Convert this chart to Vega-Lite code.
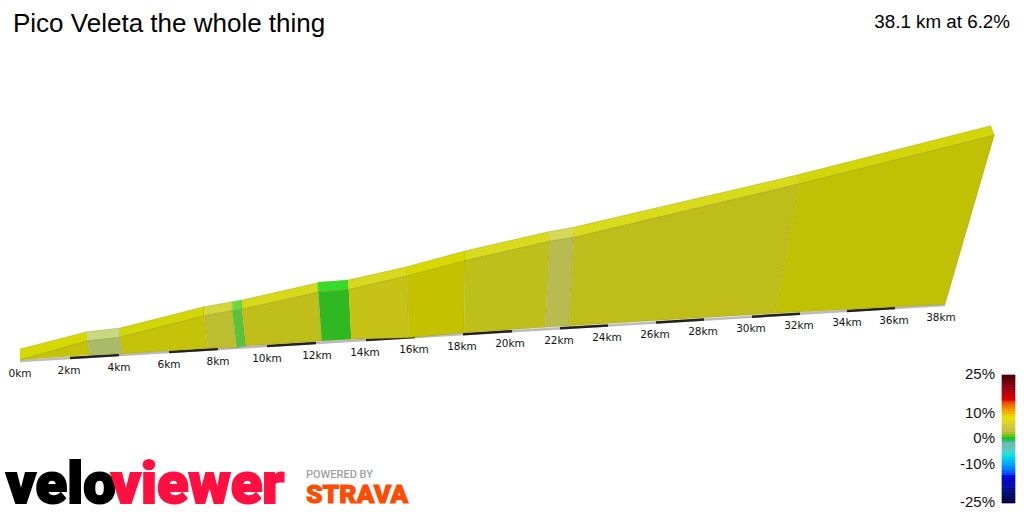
{
  "$schema": "https://vega.github.io/schema/vega-lite/v6.json",
  "autosize": {"type": "fit", "contains": "padding"},
  "width": 1024,
  "height": 512,
  "padding": 0,
  "background": "white",
  "config": {"view": {"stroke": null}},
  "datasets": {
    "faces": [
      {"patch":"s01 top","i":0,"x":0.8,"y":1630},{"patch":"s01 top","i":1,"x":3.49,"y":1803},{"patch":"s01 top","i":2,"x":3.49,"y":1710},{"patch":"s01 top","i":3,"x":0.8,"y":1520},
      {"patch":"s01 side","i":0,"x":0.8,"y":1520},{"patch":"s01 side","i":1,"x":3.49,"y":1710},{"patch":"s01 side","i":2,"x":3.6,"y":1570},
      {"patch":"s02 top","i":0,"x":3.49,"y":1803},{"patch":"s02 top","i":1,"x":4.8,"y":1840},{"patch":"s02 top","i":2,"x":4.8,"y":1747},{"patch":"s02 top","i":3,"x":3.49,"y":1710},
      {"patch":"s02 side","i":0,"x":3.49,"y":1710},{"patch":"s02 side","i":1,"x":4.8,"y":1747},{"patch":"s02 side","i":2,"x":4.92,"y":1583},{"patch":"s02 side","i":3,"x":3.6,"y":1570},
      {"patch":"s03 top","i":0,"x":4.8,"y":1840},{"patch":"s03 top","i":1,"x":8.16,"y":2053},{"patch":"s03 top","i":2,"x":8.16,"y":1960},{"patch":"s03 top","i":3,"x":4.8,"y":1747},
      {"patch":"s03 side","i":0,"x":4.8,"y":1747},{"patch":"s03 side","i":1,"x":8.16,"y":1960},{"patch":"s03 side","i":2,"x":8.32,"y":1637},{"patch":"s03 side","i":3,"x":4.92,"y":1583},
      {"patch":"s04 top","i":0,"x":8.16,"y":2053},{"patch":"s04 top","i":1,"x":9.29,"y":2103},{"patch":"s04 top","i":2,"x":9.29,"y":2013},{"patch":"s04 top","i":3,"x":8.16,"y":1960},
      {"patch":"s04 side","i":0,"x":8.16,"y":1960},{"patch":"s04 side","i":1,"x":9.29,"y":2013},{"patch":"s04 side","i":2,"x":9.47,"y":1645},{"patch":"s04 side","i":3,"x":8.32,"y":1637},
      {"patch":"s05 top","i":0,"x":9.29,"y":2103},{"patch":"s05 top","i":1,"x":9.68,"y":2120},{"patch":"s05 top","i":2,"x":9.68,"y":2027},{"patch":"s05 top","i":3,"x":9.29,"y":2013},
      {"patch":"s05 side","i":0,"x":9.29,"y":2013},{"patch":"s05 side","i":1,"x":9.68,"y":2027},{"patch":"s05 side","i":2,"x":9.84,"y":1660},{"patch":"s05 side","i":3,"x":9.47,"y":1645},
      {"patch":"s06 top","i":0,"x":9.68,"y":2120},{"patch":"s06 top","i":1,"x":12.72,"y":2293},{"patch":"s06 top","i":2,"x":12.72,"y":2197},{"patch":"s06 top","i":3,"x":9.68,"y":2027},
      {"patch":"s06 side","i":0,"x":9.68,"y":2027},{"patch":"s06 side","i":1,"x":12.72,"y":2197},{"patch":"s06 side","i":2,"x":12.87,"y":1710},{"patch":"s06 side","i":3,"x":9.84,"y":1660},
      {"patch":"s07 top","i":0,"x":12.71,"y":2297},{"patch":"s07 top","i":1,"x":13.92,"y":2320},{"patch":"s07 top","i":2,"x":13.95,"y":2223},{"patch":"s07 top","i":3,"x":12.73,"y":2200},
      {"patch":"s07 side","i":0,"x":12.73,"y":2200},{"patch":"s07 side","i":1,"x":13.95,"y":2223},{"patch":"s07 side","i":2,"x":14.05,"y":1727},{"patch":"s07 side","i":3,"x":12.87,"y":1710},
      {"patch":"s08 top","i":0,"x":13.92,"y":2320},{"patch":"s08 top","i":1,"x":16.27,"y":2453},{"patch":"s08 top","i":2,"x":16.29,"y":2360},{"patch":"s08 top","i":3,"x":13.95,"y":2223},
      {"patch":"s08 side","i":0,"x":13.95,"y":2223},{"patch":"s08 side","i":1,"x":16.29,"y":2360},{"patch":"s08 side","i":2,"x":16.35,"y":1743},{"patch":"s08 side","i":3,"x":14.05,"y":1727},
      {"patch":"s09 top","i":0,"x":16.27,"y":2453},{"patch":"s09 top","i":1,"x":18.6,"y":2610},{"patch":"s09 top","i":2,"x":18.6,"y":2513},{"patch":"s09 top","i":3,"x":16.29,"y":2360},
      {"patch":"s09 side","i":0,"x":16.29,"y":2360},{"patch":"s09 side","i":1,"x":18.6,"y":2513},{"patch":"s09 side","i":2,"x":18.56,"y":1793},{"patch":"s09 side","i":3,"x":16.35,"y":1743},
      {"patch":"s10 top","i":0,"x":18.6,"y":2610},{"patch":"s10 top","i":1,"x":21.93,"y":2803},{"patch":"s10 top","i":2,"x":22,"y":2707},{"patch":"s10 top","i":3,"x":18.6,"y":2513},
      {"patch":"s10 side","i":0,"x":18.6,"y":2513},{"patch":"s10 side","i":1,"x":22,"y":2707},{"patch":"s10 side","i":2,"x":21.8,"y":1847},{"patch":"s10 side","i":3,"x":18.56,"y":1793},
      {"patch":"s11 top","i":0,"x":21.93,"y":2803},{"patch":"s11 top","i":1,"x":22.93,"y":2847},{"patch":"s11 top","i":2,"x":22.97,"y":2747},{"patch":"s11 top","i":3,"x":22,"y":2707},
      {"patch":"s11 side","i":0,"x":22,"y":2707},{"patch":"s11 side","i":1,"x":22.97,"y":2747},{"patch":"s11 side","i":2,"x":22.75,"y":1863},{"patch":"s11 side","i":3,"x":21.8,"y":1847},
      {"patch":"s12 top","i":0,"x":22.93,"y":2847},{"patch":"s12 top","i":1,"x":31.87,"y":3370},{"patch":"s12 top","i":2,"x":31.97,"y":3280},{"patch":"s12 top","i":3,"x":22.97,"y":2747},
      {"patch":"s12 side","i":0,"x":22.97,"y":2747},{"patch":"s12 side","i":1,"x":31.97,"y":3280},{"patch":"s12 side","i":2,"x":31,"y":1987},{"patch":"s12 side","i":3,"x":22.75,"y":1863},
      {"patch":"s13 top","i":0,"x":31.87,"y":3370},{"patch":"s13 top","i":1,"x":39.63,"y":3863},{"patch":"s13 top","i":2,"x":39.77,"y":3767},{"patch":"s13 top","i":3,"x":31.97,"y":3280},
      {"patch":"s13 side","i":0,"x":31.97,"y":3280},{"patch":"s13 side","i":1,"x":39.77,"y":3767},{"patch":"s13 side","i":2,"x":37.8,"y":2077},{"patch":"s13 side","i":3,"x":31,"y":1987}
    ],
    "stripes": [
      {"km":2,"x":2.8,"y":1540,"x2":4.76,"y2":1570},
      {"km":6,"x":6.76,"y":1600,"x2":8.72,"y2":1630},
      {"km":10,"x":10.68,"y":1659,"x2":12.64,"y2":1689},
      {"km":14,"x":14.64,"y":1719,"x2":16.6,"y2":1749},
      {"km":18,"x":18.52,"y":1778,"x2":20.48,"y2":1808},
      {"km":22,"x":22.4,"y":1837,"x2":24.32,"y2":1866},
      {"km":26,"x":26.24,"y":1895,"x2":28.16,"y2":1924},
      {"km":30,"x":30.08,"y":1953,"x2":32,"y2":1982},
      {"km":34,"x":33.88,"y":2010,"x2":35.8,"y2":2039}
    ],
    "ticks": [
      {"label":"0km","x":0.8,"y":1380},{"label":"2km","x":2.76,"y":1410},{"label":"4km","x":4.76,"y":1440},
      {"label":"6km","x":6.76,"y":1470},{"label":"8km","x":8.72,"y":1500},{"label":"10km","x":10.68,"y":1530},
      {"label":"12km","x":12.68,"y":1560},{"label":"14km","x":14.6,"y":1590},{"label":"16km","x":16.56,"y":1620},
      {"label":"18km","x":18.48,"y":1650},{"label":"20km","x":20.4,"y":1680},{"label":"22km","x":22.36,"y":1710},
      {"label":"24km","x":24.28,"y":1740},{"label":"26km","x":26.2,"y":1770},{"label":"28km","x":28.12,"y":1800},
      {"label":"30km","x":30.04,"y":1830},{"label":"32km","x":31.96,"y":1860},{"label":"34km","x":33.88,"y":1890},
      {"label":"36km","x":35.76,"y":1910},{"label":"38km","x":37.64,"y":1940}
    ],
    "gradeBar": [
      {"grade":-25,"x":40.08,"x2":40.6,"y":90,"y2":116},{"grade":-24,"x":40.08,"x2":40.6,"y":116,"y2":141},{"grade":-23,"x":40.08,"x2":40.6,"y":141,"y2":167},{"grade":-22,"x":40.08,"x2":40.6,"y":167,"y2":193},{"grade":-21,"x":40.08,"x2":40.6,"y":193,"y2":218},
      {"grade":-20,"x":40.08,"x2":40.6,"y":218,"y2":244},{"grade":-19,"x":40.08,"x2":40.6,"y":244,"y2":269},{"grade":-18,"x":40.08,"x2":40.6,"y":269,"y2":295},{"grade":-17,"x":40.08,"x2":40.6,"y":295,"y2":321},{"grade":-16,"x":40.08,"x2":40.6,"y":321,"y2":346},
      {"grade":-15,"x":40.08,"x2":40.6,"y":346,"y2":372},{"grade":-14,"x":40.08,"x2":40.6,"y":372,"y2":397},{"grade":-13,"x":40.08,"x2":40.6,"y":397,"y2":423},{"grade":-12,"x":40.08,"x2":40.6,"y":423,"y2":449},{"grade":-11,"x":40.08,"x2":40.6,"y":449,"y2":474},
      {"grade":-10,"x":40.08,"x2":40.6,"y":474,"y2":500},{"grade":-9,"x":40.08,"x2":40.6,"y":500,"y2":525},{"grade":-8,"x":40.08,"x2":40.6,"y":525,"y2":551},{"grade":-7,"x":40.08,"x2":40.6,"y":551,"y2":577},{"grade":-6,"x":40.08,"x2":40.6,"y":577,"y2":602},
      {"grade":-5,"x":40.08,"x2":40.6,"y":602,"y2":628},{"grade":-4,"x":40.08,"x2":40.6,"y":628,"y2":653},{"grade":-3,"x":40.08,"x2":40.6,"y":653,"y2":679},{"grade":-2,"x":40.08,"x2":40.6,"y":679,"y2":705},{"grade":-1,"x":40.08,"x2":40.6,"y":705,"y2":730},
      {"grade":0,"x":40.08,"x2":40.6,"y":730,"y2":756},{"grade":1,"x":40.08,"x2":40.6,"y":756,"y2":781},{"grade":2,"x":40.08,"x2":40.6,"y":781,"y2":807},{"grade":3,"x":40.08,"x2":40.6,"y":807,"y2":833},{"grade":4,"x":40.08,"x2":40.6,"y":833,"y2":858},
      {"grade":5,"x":40.08,"x2":40.6,"y":858,"y2":884},{"grade":6,"x":40.08,"x2":40.6,"y":884,"y2":909},{"grade":7,"x":40.08,"x2":40.6,"y":909,"y2":935},{"grade":8,"x":40.08,"x2":40.6,"y":935,"y2":961},{"grade":9,"x":40.08,"x2":40.6,"y":961,"y2":986},
      {"grade":10,"x":40.08,"x2":40.6,"y":986,"y2":1012},{"grade":11,"x":40.08,"x2":40.6,"y":1012,"y2":1037},{"grade":12,"x":40.08,"x2":40.6,"y":1037,"y2":1063},{"grade":13,"x":40.08,"x2":40.6,"y":1063,"y2":1089},{"grade":14,"x":40.08,"x2":40.6,"y":1089,"y2":1114},
      {"grade":15,"x":40.08,"x2":40.6,"y":1114,"y2":1140},{"grade":16,"x":40.08,"x2":40.6,"y":1140,"y2":1165},{"grade":17,"x":40.08,"x2":40.6,"y":1165,"y2":1191},{"grade":18,"x":40.08,"x2":40.6,"y":1191,"y2":1217},{"grade":19,"x":40.08,"x2":40.6,"y":1217,"y2":1242},
      {"grade":20,"x":40.08,"x2":40.6,"y":1242,"y2":1268},{"grade":21,"x":40.08,"x2":40.6,"y":1268,"y2":1293},{"grade":22,"x":40.08,"x2":40.6,"y":1293,"y2":1319},{"grade":23,"x":40.08,"x2":40.6,"y":1319,"y2":1345},{"grade":24,"x":40.08,"x2":40.6,"y":1345,"y2":1370}
    ]
  },
  "encoding": {
    "x": {"field": "x", "type": "quantitative", "axis": null, "scale": {"domain": [0, 40.96], "nice": false, "zero": false}},
    "y": {"field": "y", "type": "quantitative", "axis": null, "scale": {"domain": [0, 5120], "nice": false, "zero": false}}
  },
  "layer": [
    {
      "data": {"values": [{"x": 0.8, "y": 1510, "x2": 37.8, "y2": 2070}]},
      "mark": {"type": "rule", "stroke": "#bbbbbb", "strokeWidth": 2.5},
      "encoding": {"x2": {"field": "x2"}, "y2": {"field": "y2"}}
    },
    {
      "data": {"name": "stripes"},
      "mark": {"type": "rule", "stroke": "#222222", "strokeWidth": 2.5},
      "encoding": {"x2": {"field": "x2"}, "y2": {"field": "y2"}}
    },
    {
      "data": {"name": "faces"},
      "mark": {"type": "line", "stroke": "#808000", "strokeOpacity": 0.35, "strokeWidth": 0.8},
      "encoding": {
        "order": {"field": "i"},
        "fill": {
          "field": "patch", "type": "nominal", "legend": null,
          "scale": {
            "domain": ["s01 top","s01 side","s02 top","s02 side","s03 top","s03 side","s04 top","s04 side","s05 top","s05 side","s06 top","s06 side","s07 top","s07 side","s08 top","s08 side","s09 top","s09 side","s10 top","s10 side","s11 top","s11 side","s12 top","s12 side","s13 top","s13 side"],
            "range": ["#d6d804","#c4c30a","#c8d87f","#a9bb6a","#d2d606","#c4c30a","#d3d63c","#bdbd30","#6bd840","#5cc13c","#d6d81a","#c0be1a","#36dc2c","#30b822","#d8d81c","#c6c216","#d6d800","#c4c100","#d9da1c","#bfbf1c","#d5d858","#b7bb50","#d8da1a","#bebd1a","#d2d508","#c0c005"]
          }
        }
      }
    },
    {
      "data": {"name": "ticks"},
      "mark": {"type": "text", "font": "DejaVu Sans", "fontSize": 10.5, "fill": "#111111", "align": "center", "baseline": "middle"},
      "encoding": {"text": {"field": "label"}}
    },
    {
      "data": {"name": "gradeBar"},
      "mark": {"type": "rect", "strokeWidth": 0.7},
      "encoding": {
        "x2": {"field": "x2"},
        "y2": {"field": "y2"},
        "color": {
          "field": "grade", "type": "quantitative", "legend": null,
          "scale": {
            "domain": [-25, -15, -7, -2, 0, 3, 8, 11.5, 15, 25],
            "range": ["#000040", "#0000e0", "#00e0e0", "#70b8a8", "#20c020", "#c8c040", "#e8e000", "#f09000", "#e00000", "#400000"]
          }
        },
        "stroke": {
          "field": "grade", "type": "quantitative", "legend": null,
          "scale": {
            "domain": [-25, -15, -7, -2, 0, 3, 8, 11.5, 15, 25],
            "range": ["#000040", "#0000e0", "#00e0e0", "#70b8a8", "#20c020", "#c8c040", "#e8e000", "#f09000", "#e00000", "#400000"]
          }
        }
      }
    },
    {
      "data": {"values": [
        {"label":"25%","x":39.8,"y":1380},{"label":"10%","x":39.8,"y":990},{"label":"0%","x":39.8,"y":740},{"label":"-10%","x":39.8,"y":480},{"label":"-25%","x":39.8,"y":100}
      ]},
      "mark": {"type": "text", "font": "Liberation Sans", "fontSize": 15, "fill": "#111111", "align": "right", "baseline": "middle"},
      "encoding": {"text": {"field": "label"}}
    },
    {
      "data": {"values": [{"label": "Pico Veleta the whole thing", "x": 0.52, "y": 4800}]},
      "mark": {"type": "text", "font": "Liberation Sans", "fontSize": 26, "fill": "#000000", "align": "left", "baseline": "alphabetic"},
      "encoding": {"text": {"field": "label"}}
    },
    {
      "data": {"values": [{"label": "38.1 km at 6.2%", "x": 40.4, "y": 4840}]},
      "mark": {"type": "text", "font": "Liberation Sans", "fontSize": 18.8, "fill": "#000000", "align": "right", "baseline": "alphabetic"},
      "encoding": {"text": {"field": "label"}}
    },
    {
      "data": {"values": [{"label": "velo", "x": 0.24, "y": 90}]},
      "mark": {"type": "text", "clip": true, "font": "Roboto", "fontWeight": 900, "fontSize": 58, "fill": "#000000", "stroke": "#000000", "strokeWidth": 2, "align": "left", "baseline": "alphabetic"},
      "encoding": {"text": {"field": "label"}}
    },
    {
      "data": {"values": [{"label": "viewer", "x": 4.44, "y": 90}]},
      "mark": {"type": "text", "clip": true, "font": "Roboto", "fontWeight": 900, "fontSize": 58, "fill": "#ff1040", "stroke": "#ff1040", "strokeWidth": 2, "align": "left", "baseline": "alphabetic"},
      "encoding": {"text": {"field": "label"}}
    },
    {
      "data": {"values": [{"label": "POWERED BY", "x": 12.24, "y": 340}]},
      "mark": {"type": "text", "font": "Roboto", "fontWeight": 500, "fontSize": 11, "fill": "#a0a0a0", "align": "left", "baseline": "alphabetic"},
      "encoding": {"text": {"field": "label"}}
    },
    {
      "data": {"values": [{"label": "STRAVA", "x": 12.24, "y": 90}]},
      "mark": {"type": "text", "clip": true, "font": "Roboto", "fontWeight": 900, "fontSize": 26.5, "fill": "#fc4c02", "stroke": "#fc4c02", "strokeWidth": 1, "align": "left", "baseline": "alphabetic"},
      "encoding": {"text": {"field": "label"}}
    }
  ]
}
